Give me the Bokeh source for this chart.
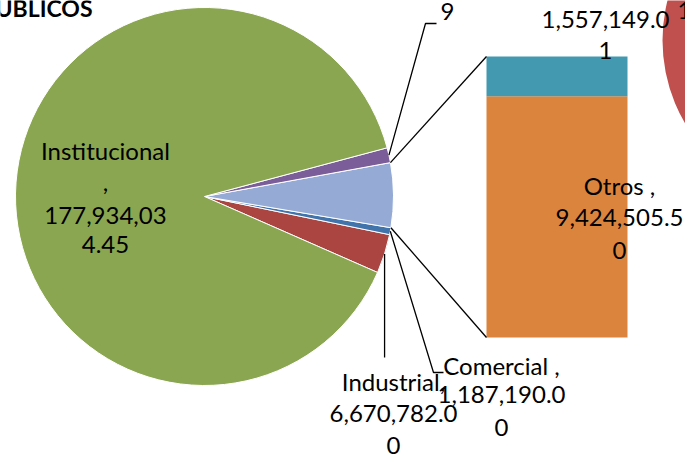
import math
from bokeh.plotting import figure
from bokeh.models import Range1d
from bokeh.core.properties import value
from bokeh.embed import file_html
from bokeh.resources import INLINE

# ---------------- data ----------------
pie_names = ["Industrial", "Comercial", "Otros (grupo)", "Residencial", "Institucional"]
bar_names = ["Otros", "Oficial"]
bar_values = [9424505.50, 1557149.01]
pie_values = [6670782.00, 1187190.00, sum(bar_values), 2548310.89, 177934034.45]

pie_colors = ["#AA4542", "#4274AC", "#95ABD5", "#7B5D99", "#8BA650"]
bar_colors = ["#DB843E", "#4399B0"]

# visible label lines (the chart is cropped)
label_institucional = ["Institucional", ",", "177,934,03", "4.45"]
label_industrial = ["Industrial,", "6,670,782.0", "0"]
label_comercial = ["Comercial ,", "1,187,190.0", "0"]
label_otros = ["Otros ,", "9,424,505.5", "0"]
label_oficial = ["1,557,149.0", "1"]
label_residencial = ["9"]
label_neighbour = ["1"]
title_text = "UBLICOS"

# ---------------- figure ----------------
W, H = 685, 455
p = figure(width=W, height=H, x_range=Range1d(0, W), y_range=Range1d(0, H),
           output_backend="svg", toolbar_location=None, min_border=0,
           x_axis_type=None, y_axis_type=None)
p.grid.visible = False
p.outline_line_color = None
p.background_fill_color = "white"


def Y(sy):
    return H - sy


FONT = value("Lato")
FS = "24px"
TSHIFT = 8  # svg text baseline correction

# part of a neighbouring chart at the right edge
p.circle(x=[825], y=[Y(40)], radius=163, fill_color="#C0504D", line_color=None)

# ---------------- pie ----------------
cx, cy, R = 204, Y(196), 189
total = sum(pie_values)
start0 = math.radians(-23.7)
starts, ends = [], []
a = start0
for v in pie_values:
    starts.append(a)
    a += v / total * 2 * math.pi
    ends.append(a)

p.wedge(x=[cx] * len(pie_values), y=[cy] * len(pie_values), radius=R,
        start_angle=starts, end_angle=ends, fill_color=pie_colors,
        line_color="white", line_width=1)

# ---------------- bar of pie ----------------
bx0, bx1 = 486, 627
b_bottom, b_top = Y(337), Y(56)
scale = (b_top - b_bottom) / sum(bar_values)
bottoms, tops = [], []
acc = b_bottom
for v in bar_values:
    bottoms.append(acc)
    acc += v * scale
    tops.append(acc)
p.quad(left=[bx0] * 2, right=[bx1] * 2, bottom=bottoms, top=tops,
       fill_color=bar_colors, line_color=None)


def edge(angle, r=R):
    return cx + r * math.cos(angle), cy + r * math.sin(angle)


# connector lines
ux, uy = edge(ends[2])
lx, ly = edge(starts[2])
p.line([ux, bx0], [uy, b_top], line_color="black", line_width=1.3)
p.line([lx, bx0], [ly, b_bottom], line_color="black", line_width=1.3)

# leader lines
mid = lambda i: (starts[i] + ends[i]) / 2
rx, ry = edge(mid(0))
p.line([rx, rx], [ry, Y(357)], line_color="black", line_width=1.3)
kx, ky = edge(mid(1))
p.line([kx, 433, 443], [ky, Y(372), Y(372)], line_color="black", line_width=1.3)
qx, qy = edge(mid(3))
p.line([qx, 425, 436], [qy, Y(23), Y(23)], line_color="black", line_width=1.3)

# ---------------- labels ----------------
def lines(xc, baselines, texts, align="center"):
    p.text(x=[xc] * len(texts), y=[Y(b - TSHIFT) for b in baselines], text=texts,
           text_font=FONT, text_font_size=FS, text_align=align,
           text_baseline="alphabetic", text_color="black")


lines(105, [158, 190, 223, 252], label_institucional)
lines(393, [389, 421, 453], label_industrial)
lines(501, [373, 402, 435], label_comercial)
lines(619, [193, 225, 258], label_otros)
lines(605, [27, 58], label_oficial)
lines(447, [19], label_residencial)
lines(677, [18], label_neighbour, align="left")

p.text(x=[-5], y=[Y(15 - TSHIFT)], text=[title_text], text_font=FONT, text_font_size="23px",
       text_font_style="bold", text_align="left", text_baseline="alphabetic",
       text_color="black")

open("out.html", "w").write(file_html(p, INLINE))
